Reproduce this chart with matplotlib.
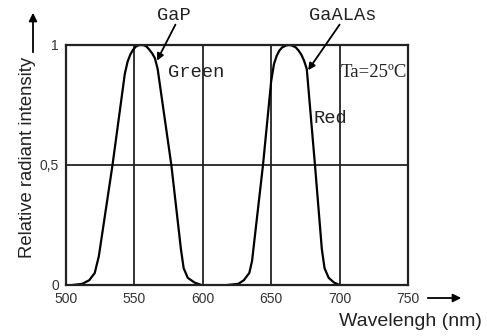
import matplotlib
matplotlib.use("Agg")
import matplotlib.pyplot as plt
from matplotlib import font_manager
from matplotlib.patches import FancyArrowPatch

# Data
gap_wl = [505, 512, 517, 521, 524, 534, 543, 545, 547, 549, 551, 553, 555, 557, 559, 561, 563, 565, 567, 577, 584, 586, 589, 594, 599]
gap_int = [0, 0.005, 0.02, 0.05, 0.12, 0.5, 0.88, 0.93, 0.96, 0.98, 0.993, 0.999, 1.0, 0.999, 0.993, 0.98, 0.965, 0.945, 0.9, 0.5, 0.15, 0.07, 0.03, 0.01, 0]
gaalas_wl = [618, 626, 630, 634, 636, 644, 650, 652, 654, 656, 658, 661, 663, 665, 668, 670, 672, 674, 676, 682, 687, 689, 692, 696, 700]
gaalas_int = [0, 0.005, 0.02, 0.05, 0.1, 0.5, 0.85, 0.92, 0.955, 0.977, 0.99, 0.998, 1.0, 0.998, 0.99, 0.977, 0.96, 0.935, 0.9, 0.5, 0.15, 0.07, 0.03, 0.01, 0]
x_ticks = [500, 550, 600, 650, 700, 750]
y_ticks = [0, 0.5, 1]
y_ticklabels = ["0", "0,5", "1"]
v_grid = [550, 600, 650, 700]
h_grid = [0.5]

names = {f.name for f in font_manager.fontManager.ttflist}
narrow = "Liberation Sans Narrow" if "Liberation Sans Narrow" in names else "Liberation Sans"

fig = plt.figure(figsize=(4.87, 3.36), dpi=100)
ax = fig.add_axes([66/487, 1-285/336, (408-66)/487, (285-45)/336])
ax.set_xlim(500, 750)
ax.set_ylim(0, 1)

for v in v_grid:
    ax.axvline(v, color="#222222", lw=1.3, zorder=1)
for h in h_grid:
    ax.axhline(h, color="#222222", lw=1.3, zorder=1)

ax.plot(gap_wl, gap_int, color="black", lw=1.6, zorder=2, solid_joinstyle="round")
ax.plot(gaalas_wl, gaalas_int, color="black", lw=1.6, zorder=2, solid_joinstyle="round")

for s in ax.spines.values():
    s.set_linewidth(1.6)
    s.set_color("#222222")

ax.set_xticks(x_ticks)
ax.set_xticklabels([str(t) for t in x_ticks], fontfamily=narrow, fontsize=10, color="#333333")
ax.set_yticks(y_ticks)
ax.set_yticklabels(y_ticklabels, fontfamily=narrow, fontsize=10, color="#333333")
ax.tick_params(length=0)
ax.tick_params(axis="x", pad=5)
ax.tick_params(axis="y", pad=5)

mono = dict(fontfamily="Liberation Mono", fontsize=13.5, color="#222222")

# Annotations
ax.text(579, 1.125, "GaP", ha="center", va="center", clip_on=False, **mono)
ax.annotate("", xy=(566.5, 0.935), xytext=(580, 1.085), annotation_clip=False,
            arrowprops=dict(arrowstyle="-|>", color="black", lw=1.3, shrinkA=0, shrinkB=0,
                            mutation_scale=10))
ax.text(574.5, 0.885, "Green", ha="left", va="center", **mono)
ax.text(702, 1.125, "GaALAs", ha="center", va="center", clip_on=False, **mono)
ax.annotate("", xy=(677, 0.895), xytext=(700, 1.085), annotation_clip=False,
            arrowprops=dict(arrowstyle="-|>", color="black", lw=1.3, shrinkA=0, shrinkB=0,
                            mutation_scale=10))
ax.text(701, 0.885, "Ta=25ºC", fontfamily="Liberation Serif", fontsize=13.5, ha="left",
        va="center", color="#222222")
ax.text(681, 0.695, "Red", ha="left", va="center", **mono)

# Axis labels with arrows
fig.text(28/487, 1-157/336, "Relative radiant intensity", rotation=90, fontfamily="Liberation Sans",
         fontsize=13.3, ha="center", va="center", color="#222222")
fig.add_artist(FancyArrowPatch((33/487, 1-55/336), (33/487, 1-10/336),
               transform=fig.transFigure, arrowstyle="-|>", mutation_scale=12, color="black", lw=1.3))
fig.text(482/487, 1-322/336, "Wavelengh (nm)", fontfamily="Liberation Sans",
         fontsize=14, ha="right", va="center", color="#222222")
fig.add_artist(FancyArrowPatch((425/487, 1-298/336), (464/487, 1-298/336),
               transform=fig.transFigure, arrowstyle="-|>", mutation_scale=12, color="black", lw=1.3))

fig.savefig("out.png", dpi=100, facecolor="white")
